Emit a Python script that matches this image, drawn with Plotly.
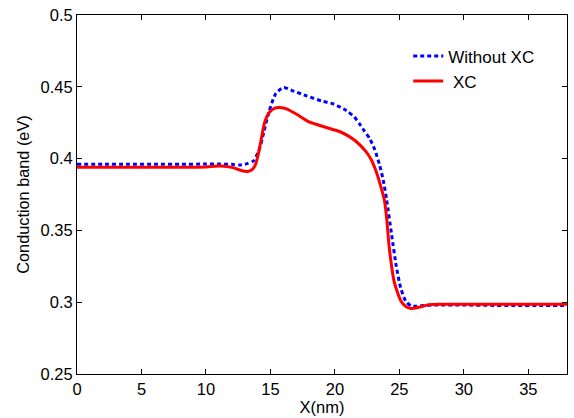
import plotly.graph_objects as go

x_noxc = [0, 2, 4, 6, 8, 10, 11, 12, 12.6, 13.2, 13.7, 14.2, 14.5, 14.9, 15.4, 16.0, 16.8, 17.8, 19.0, 19.9, 20.9, 21.5, 21.9, 22.3, 22.7, 23.1, 23.45, 23.75, 24.0, 24.4, 24.75, 25.1, 25.5, 25.9, 26.3, 27.0, 28, 30, 32, 34, 36, 38]
y_noxc = [0.396, 0.396, 0.396, 0.396, 0.396, 0.3962, 0.3962, 0.396, 0.3955, 0.3965, 0.3985, 0.408, 0.419, 0.433, 0.445, 0.4495, 0.447, 0.4437, 0.440, 0.438, 0.4334, 0.429, 0.4244, 0.419, 0.414, 0.406, 0.396, 0.385, 0.372, 0.347, 0.3256, 0.310, 0.3006, 0.2975, 0.2972, 0.2978, 0.298, 0.298, 0.2978, 0.2977, 0.2977, 0.2977]

x_xc = [0, 2, 4, 6, 8, 10, 11.1, 12.1, 12.8, 13.3, 13.6, 13.85, 14.05, 14.3, 14.56, 14.9, 15.3, 15.7, 16.3, 17.0, 18.0, 19.2, 20.4, 21.0, 21.65, 22.4, 22.8, 23.2, 23.5, 23.84, 24.0, 24.23, 24.6, 25.13, 25.5, 25.9, 26.5, 27.3, 28.1, 29, 30, 32, 34, 36, 38]
y_xc = [0.394, 0.394, 0.394, 0.394, 0.394, 0.3942, 0.3948, 0.3937, 0.3915, 0.3912, 0.3925, 0.396, 0.4028, 0.414, 0.4255, 0.432, 0.435, 0.4355, 0.4345, 0.431, 0.4255, 0.422, 0.4187, 0.416, 0.4119, 0.405, 0.3995, 0.391, 0.3824, 0.371, 0.3597, 0.3369, 0.3142, 0.3006, 0.297, 0.2956, 0.2965, 0.2983, 0.2986, 0.2985, 0.2985, 0.2985, 0.2985, 0.2985, 0.2985]

x_ticks = [0, 5, 10, 15, 20, 25, 30, 35]
y_ticks = [0.25, 0.3, 0.35, 0.4, 0.45, 0.5]
y_tick_text = ["0.25", "0.3", "0.35", "0.4", "0.45", "0.5"]

FONT = "Liberation Sans, Arial, sans-serif"

fig = go.Figure()
fig.add_trace(go.Scatter(x=x_noxc, y=y_noxc, mode="lines", name="Without XC",
                         line=dict(color="#0000ff", width=3, dash="4px,3px", shape="spline", smoothing=0.6)))
fig.add_trace(go.Scatter(x=x_xc, y=y_xc, mode="lines", name="\u00a0XC",
                         line=dict(color="#ff0000", width=3, shape="spline", smoothing=0.6)))

axis_common = dict(showgrid=False, zeroline=False, showline=True, linecolor="black", linewidth=1,
                   mirror="ticks", ticks="inside", ticklen=5, tickcolor="black", tickwidth=1,
                   ticklabeloverflow="allow",
                   tickfont=dict(family=FONT, size=16.5, color="black"))

fig.update_layout(
    width=574, height=418,
    margin=dict(l=77, r=6, t=7, b=44),
    paper_bgcolor="white", plot_bgcolor="white",
    font=dict(family=FONT, size=16, color="black"),
    xaxis=dict(range=[0, 38], tickvals=x_ticks, title=dict(text="X(nm)", standoff=1, font=dict(size=16.5)), **axis_common),
    yaxis=dict(range=[0.25, 0.5], tickvals=y_ticks, ticktext=y_tick_text,
               title=dict(text="Conduction band (eV)", standoff=6, font=dict(size=16.3)), **axis_common),
    legend=dict(x=0.676, y=0.935, xanchor="left", yanchor="top", bgcolor="rgba(0,0,0,0)",
                font=dict(size=17), tracegroupgap=0, itemwidth=30),
    showlegend=True,
)

fig.write_html("out.html")
